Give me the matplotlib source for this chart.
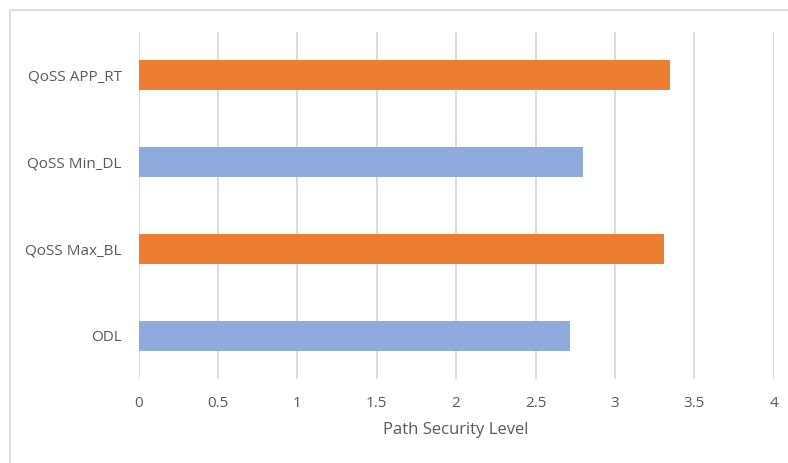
import matplotlib
matplotlib.use("Agg")
import matplotlib.pyplot as plt
from matplotlib.patches import Rectangle

categories = ["ODL", "QoSS Max_BL", "QoSS Min_DL", "QoSS APP_RT"]
values = [2.72, 3.31, 2.80, 3.35]
bar_colors = ["#8FAADC", "#ED7D31", "#8FAADC", "#ED7D31"]
x_ticks = [0, 0.5, 1, 1.5, 2, 2.5, 3, 3.5, 4]
x_tick_labels = ["0", "0.5", "1", "1.5", "2", "2.5", "3", "3.5", "4"]
x_label = "Path Security Level"

plt.rcParams['font.family'] = ['Open Sans', 'DejaVu Sans']

W, H = 788, 463
fig = plt.figure(figsize=(W / 100, H / 100), dpi=100)
fig.patch.set_facecolor("white")

# chart area border (partially cropped at right/bottom)
fig.patches.append(Rectangle((10 / W, -0.05), 1.2, 1 - 10 / H + 0.05,
                             transform=fig.transFigure, fill=False,
                             edgecolor="#D9D9D9", linewidth=1.3, zorder=0))

left, right = 138.5, 773.7
top, bottom = 32, 379
ax = fig.add_axes([left / W, 1 - bottom / H, (right - left) / W, (bottom - top) / H])

y = list(range(len(categories)))
ax.barh(y, values, height=0.345, color=bar_colors, zorder=3)

ax.set_xlim(0, 4)
ax.set_ylim(-0.5, len(categories) - 0.5)
ax.set_xticks(x_ticks)
ax.set_xticklabels(x_tick_labels)
ax.set_yticks(y)
ax.set_yticklabels(categories)

for s in ax.spines.values():
    s.set_visible(False)
ax.grid(axis="x", color="#D9D9D9", linewidth=1.3, zorder=0)
ax.tick_params(axis="both", length=0, labelsize=11, labelcolor="#595959")
ax.tick_params(axis="x", pad=12)
ax.tick_params(axis="y", pad=12)
ax.set_xlabel(x_label, fontsize=12, color="#595959", labelpad=8)

fig.savefig("out.png", dpi=100, facecolor="white")
